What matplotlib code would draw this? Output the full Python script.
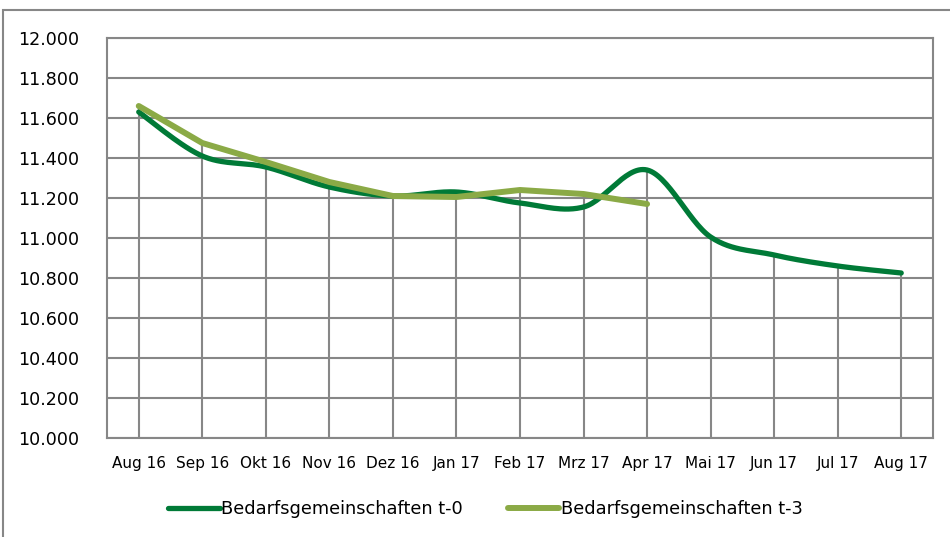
import numpy as np
import matplotlib
matplotlib.use('Agg')
import matplotlib.pyplot as plt
from matplotlib.patches import Rectangle
from matplotlib.ticker import FuncFormatter

# Daten
monate = ["Aug 16", "Sep 16", "Okt 16", "Nov 16", "Dez 16", "Jan 17", "Feb 17",
          "Mrz 17", "Apr 17", "Mai 17", "Jun 17", "Jul 17", "Aug 17"]
bg_t0 = [11630, 11410, 11355, 11255, 11210, 11230, 11175, 11155, 11340,
         11005, 10915, 10860, 10825]
bg_t3 = [11660, 11475, 11380, 11280, 11210, 11205, 11240, 11220, 11170]

col_t0 = '#007A37'
col_t3 = '#8BAA46'
col_grid = '#878787'


def smooth(y, n=30):
    # Excel-artige Glaettung (Catmull-Rom)
    y = np.asarray(y, dtype=float)
    x = np.arange(len(y), dtype=float)
    px = np.concatenate([[x[0]], x, [x[-1]]])
    py = np.concatenate([[y[0]], y, [y[-1]]])
    xs, ys = [], []
    for i in range(1, len(px) - 2):
        t = np.linspace(0, 1, n, endpoint=False)
        for arr, out in ((px, xs), (py, ys)):
            p0, p1, p2, p3 = arr[i - 1], arr[i], arr[i + 1], arr[i + 2]
            out.extend(0.5 * ((2 * p1) + (-p0 + p2) * t
                              + (2 * p0 - 5 * p1 + 4 * p2 - p3) * t ** 2
                              + (-p0 + 3 * p1 - 3 * p2 + p3) * t ** 3))
    xs.append(x[-1])
    ys.append(y[-1])
    return np.array(xs), np.array(ys)


fig = plt.figure(figsize=(9.5, 5.37), dpi=100)
ax = fig.add_axes([0.1126, 0.1844, 0.8695, 0.7448])

x = np.arange(len(monate))
top = [max(a, b) for a, b in zip(bg_t0, bg_t3 + [-1] * (len(bg_t0) - len(bg_t3)))]
ax.vlines(x, 10000, top, color=col_grid, lw=1.5, zorder=1)

sx, sy = smooth(bg_t0)
ax.plot(sx, sy, color=col_t0, lw=3.8, solid_capstyle='round',
        label='Bedarfsgemeinschaften t-0', zorder=3)
ax.plot(np.arange(len(bg_t3)), bg_t3, color=col_t3, lw=4.3, solid_capstyle='round',
        solid_joinstyle='round', label='Bedarfsgemeinschaften t-3', zorder=4)

ax.set_xlim(-0.5, len(monate) - 0.5)
ax.set_ylim(10000, 12000)
ax.set_yticks(np.arange(10000, 12001, 200))
ax.yaxis.set_major_formatter(FuncFormatter(lambda v, p: f"{v:,.0f}".replace(",", ".")))
ax.set_xticks(x)
ax.set_xticklabels(monate, fontsize=11)
ax.tick_params(axis='y', length=0, pad=20, labelsize=12.6)
ax.tick_params(axis='x', length=0, pad=13)
ax.grid(axis='y', color=col_grid, lw=1.5, zorder=0)
ax.set_axisbelow(True)
for s in ax.spines.values():
    s.set_color(col_grid)
    s.set_linewidth(1.5)

fig.legend(loc='center', bbox_to_anchor=(0.511, 1 - 509 / 537), ncol=2, frameon=False,
           fontsize=12.8, handlelength=2.9, handletextpad=0.1, columnspacing=2.5)

fig.patches.append(Rectangle((3 / 950, -0.1), 1.2, 1 - 10 / 537 + 0.1,
                             transform=fig.transFigure, fill=False,
                             edgecolor=col_grid, lw=1.5))

plt.savefig("out.png", dpi=100)
plt.close()
